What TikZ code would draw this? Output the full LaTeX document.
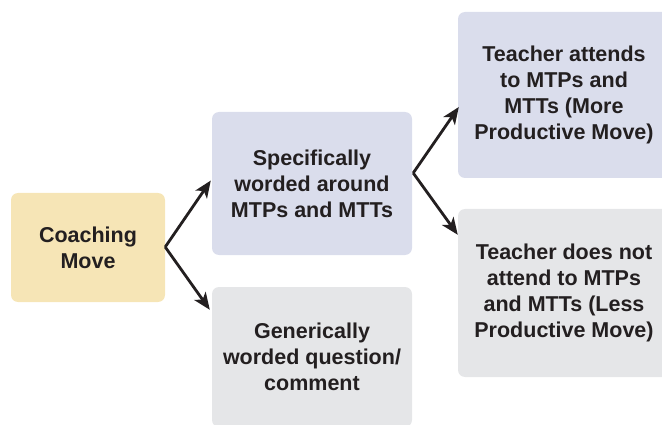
\documentclass[tikz,border=0pt]{standalone}
\usepackage{fontspec}
\setmainfont{Liberation Sans}
\usetikzlibrary{arrows.meta,calc}
\definecolor{ink}{HTML}{231F20}
\definecolor{yellowbox}{HTML}{F6E5B6}
\definecolor{lavbox}{HTML}{DADDEC}
\definecolor{graybox}{HTML}{E5E6E8}
\tikzset{
  box/.style={rectangle, rounded corners=7pt, inner sep=0pt, align=center,
    text=ink, font=\fontsize{21.5}{26}\selectfont\bfseries},
  conn/.style={draw=ink, line width=2.8pt,
    -{Stealth[length=17pt,width=14pt,inset=4.5pt]}, line join=miter}
}
\begin{document}
\begin{tikzpicture}[x=1pt,y=-1pt]
\begin{scope}
\clip (0,0) rectangle (662,425);
\node[box, fill=yellowbox, minimum width=154pt, minimum height=109pt] (coach) at (88,247.5) {Coaching\\Move};
\node[box, fill=lavbox, minimum width=200pt, minimum height=143pt] (spec) at (312,183.5) {Specifically\\worded around\\MTPs and MTTs};
\node[box, fill=graybox, minimum width=200pt, minimum height=140pt] (gen) at (312,357) {Generically\\worded question/\\comment};
\node[box, fill=lavbox, minimum width=212pt, minimum height=166pt] (more) at (564,95) {Teacher attends\\to MTPs and\\MTTs (More\\Productive Move)};
\node[box, fill=graybox, minimum width=212pt, minimum height=168pt] (less) at (564,293) {Teacher does not\\attend to MTPs\\and MTTs (Less\\Productive Move)};
\end{scope}
\coordinate (a1) at ($(coach.east)+(0,-0.5)$);
\coordinate (t1) at ($(spec.west)+(-1,-3)$);
\coordinate (t2) at ($(gen.north west)+(-2,23)$);
\coordinate (a2) at ($(spec.east)+(1,-10.5)$);
\coordinate (t3) at ($(more.west)+(1,12)$);
\coordinate (t4) at ($(less.north west)+(0,26)$);
\draw[conn] (a1) -- (t1);
\draw[conn] (a1) -- (t2);
\draw[conn] (a2) -- (t3);
\draw[conn] (a2) -- (t4);
\pgfresetboundingbox
\path[use as bounding box] (0,0) rectangle (662,425);
\end{tikzpicture}
\end{document}
